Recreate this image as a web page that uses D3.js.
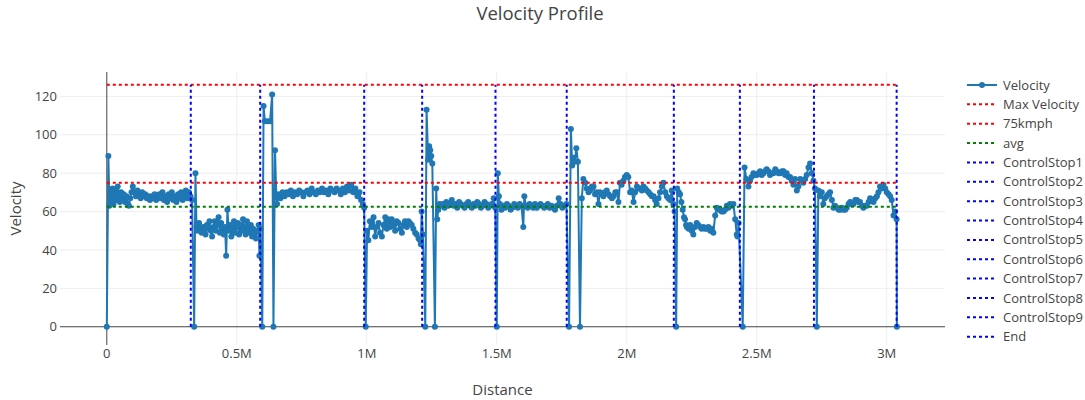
<!DOCTYPE html>
<html>
<head>
<meta charset="utf-8">
<script src="https://cdn.jsdelivr.net/npm/d3@7"></script>
<style>
  body { margin: 0; background: #fff; }
  svg { display: block; font-family: "Open Sans", verdana, arial, sans-serif; }
</style>
</head>
<body>
<div id="chart"></div>
<script>
// distance along the route, in km (plotted in metres)
const distanceKm = [
  0, 6, 10, 14, 18, 22, 26, 30, 34, 38, 42, 46, 50, 55, 60, 65, 70, 75, 80, 85, 90, 95, 100, 106, 112, 118, 124, 130, 136, 142,
  148, 154, 160, 166, 172, 178, 184, 190, 196, 202, 208, 214, 220, 226, 232, 238, 244, 250, 256, 262, 268, 274, 280, 286, 292, 298, 304, 310, 316, 322,
  328, 336, 341, 345,
  350, 355, 360, 365, 370, 375, 380, 385, 390, 395, 400, 405, 410, 415, 420, 425, 430, 435, 440, 445, 450, 455, 459, 464, 469, 474, 479, 484, 489, 494,
  499, 504, 509, 514, 519, 524, 529, 534, 539, 544, 549, 554, 559, 564, 569, 574, 579, 584, 587, 591, 598, 603, 608, 618, 628, 636, 641, 647, 652, 655,
  660, 668, 676, 684, 692, 700, 708, 716, 724, 732, 740, 748, 756, 764, 772, 780, 788, 796, 804, 812, 820, 828, 836, 844, 852, 860, 868, 876, 884, 892,
  900, 908, 916, 924, 932, 940, 948, 956, 964, 972, 978, 985, 990, 996,
  1001, 1006, 1012, 1019, 1026, 1032, 1038, 1045, 1051, 1058, 1064, 1071, 1077, 1083, 1090, 1096, 1102, 1109, 1115, 1122, 1128, 1135, 1141, 1147, 1154,
  1160, 1166, 1173, 1179, 1186, 1192, 1199, 1205, 1208, 1211, 1216, 1225, 1230, 1236, 1240, 1244, 1248, 1252, 1262, 1267, 1271, 1275, 1280,
  1285, 1292, 1299, 1306, 1313, 1320, 1327, 1334, 1341, 1348, 1355, 1362, 1369, 1376, 1383, 1390, 1397, 1404, 1411, 1418, 1425, 1432, 1439, 1446, 1453,
  1460, 1467, 1474, 1481, 1488, 1494, 1500, 1504, 1508, 1512,
  1518, 1525, 1532, 1539, 1546, 1553, 1560, 1567, 1574, 1581, 1588, 1595, 1602, 1606, 1612, 1619, 1626, 1633, 1640, 1647, 1654, 1661, 1668, 1675, 1682,
  1689, 1696, 1703, 1710, 1717, 1724, 1731, 1738, 1745, 1752, 1760, 1768, 1778, 1785, 1790, 1795, 1800, 1806, 1812, 1820,
  1827, 1833, 1840, 1846, 1853, 1859, 1866, 1872, 1878, 1885, 1891, 1897, 1904, 1910, 1916, 1923, 1930, 1936, 1943, 1949, 1956, 1962, 1968, 1974, 1980,
  1987, 1993, 2000, 2006, 2013, 2019, 2026, 2032, 2039, 2045, 2051, 2058, 2064, 2071, 2077, 2084, 2090, 2097, 2103, 2109, 2115, 2122, 2128, 2135, 2141,
  2148, 2154, 2160, 2167, 2173, 2179, 2184, 2190,
  2194, 2200, 2205, 2210, 2215, 2220, 2224, 2228, 2231, 2238, 2244, 2250, 2256, 2262, 2269, 2275, 2282, 2288, 2295, 2301, 2308, 2314, 2321, 2327, 2333,
  2340, 2346, 2352, 2359, 2365, 2372, 2378, 2385, 2391, 2397, 2404, 2410, 2417, 2423, 2426, 2430, 2446,
  2453, 2460, 2468, 2474, 2480, 2487, 2494, 2500, 2507, 2513, 2519, 2526, 2532, 2538, 2545, 2551, 2558, 2564, 2571, 2577, 2584, 2590, 2597, 2603, 2609,
  2615, 2622, 2628, 2634, 2641, 2647, 2654, 2660, 2667, 2673, 2679, 2686, 2692, 2699, 2705, 2712, 2718, 2724, 2731,
  2737, 2743, 2750, 2756, 2762, 2769, 2775, 2782, 2789, 2795, 2801, 2808, 2815, 2821, 2827, 2833, 2840, 2846, 2853, 2859, 2866, 2872, 2879, 2885, 2891,
  2897, 2904, 2910, 2917, 2923, 2930, 2936, 2943, 2949, 2956, 2962, 2968, 2974, 2981, 2987, 2994, 3000, 3007, 3013, 3019, 3026, 3032, 3038, 3039
];

// velocity at each distance
const velocity = [
  0, 89, 63, 70, 66, 72, 64, 69, 71, 66, 73, 68, 65, 70, 67, 69, 65, 68, 64, 63, 67, 70, 73, 70, 68, 71, 69, 67, 70, 68,
  69, 67, 68, 66, 68, 67, 69, 66, 68, 69, 67, 70, 66, 68, 65, 69, 67, 70, 66, 68, 65, 69, 67, 70, 66, 68, 71, 67, 70, 68,
  66, 0, 80, 52,
  50, 54, 51, 49, 52, 50, 48, 53, 51, 55, 50, 47, 52, 55, 50, 53, 57, 49, 54, 51, 48, 52, 37, 61, 50, 53, 47, 51, 55, 49,
  52, 54, 48, 53, 50, 56, 52, 48, 55, 51, 49, 53, 47, 51, 49, 46, 50, 53, 37, 51, 0, 115, 107, 107, 107, 121, 0, 92, 68, 64,
  69, 67, 70, 68, 70, 69, 71, 68, 70, 69, 71, 70, 68, 70, 71, 69, 72, 70, 69, 71, 70, 72, 70, 71, 69, 72, 71, 70, 72, 71,
  69, 72, 70, 73, 71, 74, 70, 72, 68, 70, 66, 64, 62, 0,
  50, 45, 55, 52, 57, 47, 52, 54, 49, 47, 53, 57, 51, 56, 52, 56, 53, 50, 55, 54, 51, 49, 53, 55, 52,
  55, 54, 53, 51, 49, 48, 46, 45, 43, 60, 48, 0, 113, 87, 94, 92, 89, 85, 0, 72, 56, 61, 64,
  63, 64, 62, 65, 63, 64, 66, 63, 64, 62, 65, 64, 63, 62, 64, 65, 63, 62, 64, 63, 65, 64, 62, 63, 65,
  64, 62, 63, 64, 67, 62, 0, 80, 68, 64,
  61, 63, 62, 64, 63, 61, 62, 64, 63, 62, 64, 63, 52, 68, 63, 62, 64, 63, 62, 64, 62, 63, 64, 63, 62,
  63, 64, 62, 63, 62, 61, 63, 67, 64, 62, 63, 64, 0, 103, 84, 88, 86, 93, 86, 0,
  67, 77, 75, 72, 70, 71, 73, 73, 69, 70, 64, 70, 69, 68, 70, 71, 69, 68, 67, 68, 70, 70, 65, 75, 74,
  76, 78, 79, 78, 70, 71, 65, 70, 73, 72, 72, 71, 73, 72, 71, 70, 69, 68, 68, 66, 64, 67, 70, 73, 75,
  70, 68, 67, 66, 71, 64, 60, 0,
  72, 70, 69, 65, 61, 57, 56, 53, 52, 51, 53, 50, 48, 52, 54, 53, 52, 51, 52, 51, 51, 52, 50, 51, 49,
  58, 62, 61, 61, 60, 60, 61, 63, 62, 64, 63, 64, 56, 48, 47, 54, 0,
  83, 77, 73, 76, 78, 80, 79, 79, 80, 81, 79, 80, 81, 82, 81, 79, 80, 80, 82, 81, 80, 80, 81, 81, 79,
  80, 78, 78, 76, 74, 77, 71, 73, 77, 76, 75, 77, 79, 83, 85, 80, 76, 72, 0,
  71, 68, 70, 64, 67, 68, 69, 70, 66, 62, 63, 62, 61, 61, 62, 61, 61, 62, 64, 65, 64, 64, 66, 66, 65,
  65, 63, 62, 63, 63, 65, 67, 66, 65, 67, 68, 70, 73, 72, 74, 72, 70, 69, 68, 66, 58, 60, 56, 0
];

// reference lines
const maxVelocity = 126;
const limit75 = 75;
const avgVelocity = 62.5;

const stopNames = ["ControlStop1", "ControlStop2", "ControlStop3", "ControlStop4", "ControlStop5",
  "ControlStop6", "ControlStop7", "ControlStop8", "ControlStop9", "End"];
const stopKm = [323, 590, 990, 1213, 1495, 1769, 2181, 2435, 2720, 3038];

const xTicks = [0, 500000, 1000000, 1500000, 2000000, 2500000, 3000000];
const yTicks = [0, 20, 40, 60, 80, 100, 120];

const width = 1085, height = 400;
const plot = { left: 60, right: 945, top: 72, bottom: 345 };

const x = d3.scaleLinear().domain([-180000, 3224000]).range([plot.left, plot.right]);
const y = d3.scaleLinear().domain([-9.5, 132.7]).range([plot.bottom, plot.top]);

const svg = d3.select("#chart").append("svg")
  .attr("width", width)
  .attr("height", height);

// grid
const grid = svg.append("g").attr("stroke", "#eee").attr("stroke-width", 1);
grid.selectAll(".gx").data(xTicks.filter(d => d !== 0)).join("line")
  .attr("x1", d => x(d)).attr("x2", d => x(d))
  .attr("y1", plot.top).attr("y2", plot.bottom);
grid.selectAll(".gy").data(yTicks.filter(d => d !== 0)).join("line")
  .attr("x1", plot.left).attr("x2", plot.right)
  .attr("y1", d => y(d)).attr("y2", d => y(d));

// zero lines
svg.append("line")
  .attr("x1", plot.left).attr("x2", plot.right)
  .attr("y1", y(0)).attr("y2", y(0))
  .attr("stroke", "#444").attr("stroke-width", 1);
svg.append("line")
  .attr("x1", x(0)).attr("x2", x(0))
  .attr("y1", plot.top).attr("y2", plot.bottom)
  .attr("stroke", "#444").attr("stroke-width", 1);

// tick labels
svg.append("g").selectAll("text").data(xTicks).join("text")
  .attr("x", d => x(d)).attr("y", 353)
  .attr("text-anchor", "middle").attr("dy", "0.35em")
  .attr("font-size", 13).attr("fill", "#444")
  .text(d => d === 0 ? "0" : (d / 1e6) + "M");
svg.append("g").selectAll("text").data(yTicks).join("text")
  .attr("x", plot.left - 3).attr("y", d => y(d))
  .attr("text-anchor", "end").attr("dy", "0.35em")
  .attr("font-size", 13).attr("fill", "#444")
  .text(d => d);

// titles
svg.append("text")
  .attr("x", 540).attr("y", 20)
  .attr("text-anchor", "middle")
  .attr("font-size", 18.5).attr("fill", "#444")
  .text("Velocity Profile");
svg.append("text")
  .attr("x", (plot.left + plot.right) / 2).attr("y", 390)
  .attr("text-anchor", "middle").attr("dy", "0.35em")
  .attr("font-size", 15).attr("fill", "#444")
  .text("Distance");
svg.append("text")
  .attr("transform", `translate(16,${(plot.top + plot.bottom) / 2}) rotate(-90)`)
  .attr("text-anchor", "middle").attr("dy", "0.35em")
  .attr("font-size", 15).attr("fill", "#444")
  .text("Velocity");

// velocity trace
const pts = distanceKm.map((d, i) => [d * 1000, velocity[i]]);
const clip = svg.append("clipPath").attr("id", "clip").append("rect")
  .attr("x", plot.left).attr("y", plot.top)
  .attr("width", plot.right - plot.left).attr("height", plot.bottom - plot.top);
const body = svg.append("g").attr("clip-path", "url(#clip)");

body.append("path")
  .datum(pts)
  .attr("fill", "none")
  .attr("stroke", "#1f77b4")
  .attr("stroke-width", 2)
  .attr("stroke-linejoin", "round")
  .attr("d", d3.line().x(d => x(d[0])).y(d => y(d[1])));
body.append("g").attr("fill", "#1f77b4")
  .selectAll("circle").data(pts).join("circle")
  .attr("cx", d => x(d[0])).attr("cy", d => y(d[1])).attr("r", 3);

// dotted reference lines
const endM = stopKm[stopKm.length - 1] * 1000;
const hLines = [
  { name: "Max Velocity", v: maxVelocity, color: "red" },
  { name: "75kmph", v: limit75, color: "red" },
  { name: "avg", v: avgVelocity, color: "green" }
];
body.append("g").selectAll("line").data(hLines).join("line")
  .attr("x1", x(0)).attr("x2", x(endM))
  .attr("y1", d => y(d.v)).attr("y2", d => y(d.v))
  .attr("stroke", d => d.color).attr("stroke-width", 2)
  .attr("stroke-dasharray", "3,3");
body.append("g").selectAll("line").data(stopKm).join("line")
  .attr("x1", d => x(d * 1000)).attr("x2", d => x(d * 1000))
  .attr("y1", y(0)).attr("y2", y(maxVelocity))
  .attr("stroke", "blue").attr("stroke-width", 2)
  .attr("stroke-dasharray", "3,3");

// legend
const legendItems = [{ name: "Velocity", color: "#1f77b4", dot: true }]
  .concat(hLines.map(d => ({ name: d.name, color: d.color })))
  .concat(stopNames.map(n => ({ name: n, color: "blue" })));
const legend = svg.append("g").selectAll("g").data(legendItems).join("g")
  .attr("transform", (d, i) => `translate(962,${85 + i * 19.36})`);
legend.append("line")
  .attr("x1", 5).attr("x2", 35).attr("y1", 0).attr("y2", 0)
  .attr("stroke", d => d.color).attr("stroke-width", 2)
  .attr("stroke-dasharray", d => d.dot ? null : "3,3");
legend.filter(d => d.dot).append("circle")
  .attr("cx", 20).attr("cy", 0).attr("r", 3).attr("fill", "#1f77b4");
legend.append("text")
  .attr("x", 41).attr("y", 0).attr("dy", "0.35em")
  .attr("font-size", 13).attr("fill", "#444")
  .text(d => d.name);
</script>
</body>
</html>
